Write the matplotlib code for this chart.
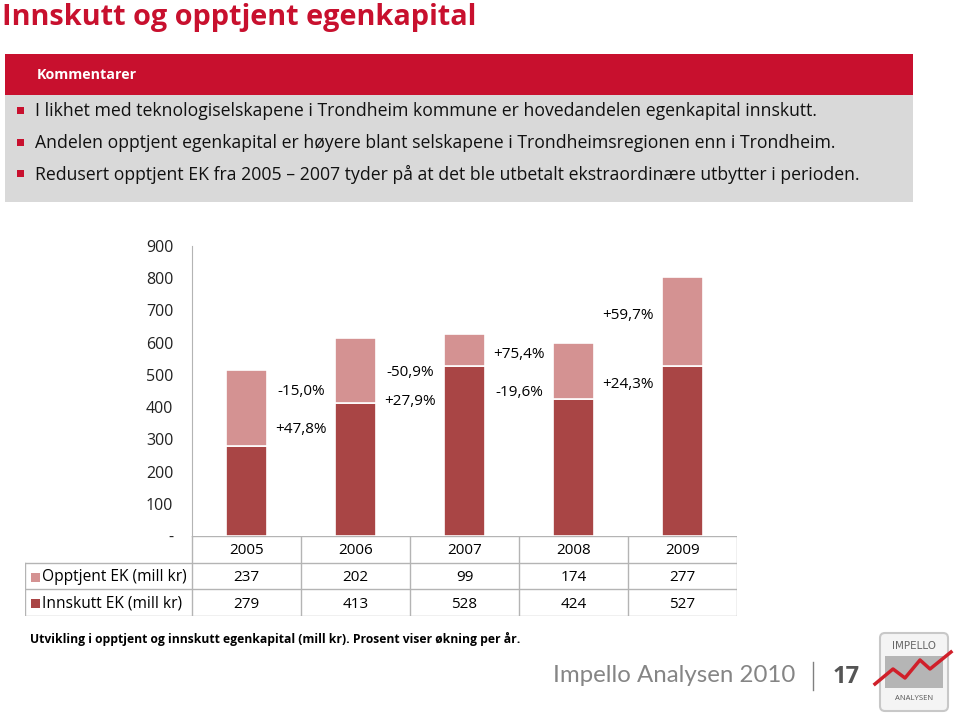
import matplotlib
matplotlib.use("Agg")
import numpy as np
import matplotlib.pyplot as plt
from matplotlib.patches import Rectangle, FancyBboxPatch

plt.rcParams['font.family'] = ['Open Sans', 'DejaVu Sans']

years = ['2005', '2006', '2007', '2008', '2009']
opptjent = [237, 202, 99, 174, 277]
innskutt = [279, 413, 528, 424, 527]
# growth labels between consecutive years (upper, lower)
pct_upper = ['-15,0%', '-50,9%', '+75,4%', '+59,7%']
pct_lower = ['+47,8%', '+27,9%', '-19,6%', '+24,3%']
yticks = [0, 100, 200, 300, 400, 500, 600, 700, 800, 900]
ytick_labels = ['-', '100', '200', '300', '400', '500', '600', '700', '800', '900']

bullets = [
    'I likhet med teknologiselskapene i Trondheim kommune er hovedandelen egenkapital innskutt.',
    'Andelen opptjent egenkapital er høyere blant selskapene i Trondheimsregionen enn i Trondheim.',
    'Redusert opptjent EK fra 2005 \u2013 2007 tyder på at det ble utbetalt ekstraordinære utbytter i perioden.',
]

RED = '#c8102e'
DARK = '#a94545'
LIGHT = '#d49292'
GRID = '#b4b4b4'

W, H = 959, 718
fig = plt.figure(figsize=(W / 100, H / 100), dpi=100)

# overlay axes in pixel coordinates for the slide decoration
ov = fig.add_axes([0, 0, 1, 1])
ov.set_xlim(0, W)
ov.set_ylim(H, 0)
ov.axis('off')

ov.text(2, 18, 'Innskutt og opptjent egenkapital', color=RED, fontsize=20.8,
        fontweight='bold', va='center', ha='left')
ov.add_patch(Rectangle((5, 54), 908, 41, color=RED, lw=0))
ov.add_patch(Rectangle((5, 95), 908, 107, color='#d9d9d9', lw=0))
ov.text(37, 75, 'Kommentarer', color='white', fontsize=10.3, fontweight='bold', va='center')
for i, b in enumerate(bullets):
    y = 110 + i * 31.5
    ov.add_patch(Rectangle((17, y - 3), 7, 7, color=RED, lw=0))
    ov.text(35, y + 1, b, fontsize=12.7, va='center', color='#111111')

ov.text(30, 639, 'Utvikling i opptjent og innskutt egenkapital (mill kr). Prosent viser økning per år.',
        fontsize=8.7, fontweight='bold', va='center')

# footer
ov.text(553, 676, 'Impello Analysen 2010', fontsize=17.3, color='#858585', va='center',
        family=['Lato', 'DejaVu Sans'])
ov.plot([813, 813], [662, 690], color='#808080', lw=1)
ov.text(833, 677, '17', fontsize=17, color='#555555', fontweight='bold', va='center')

# logo
ov.add_patch(FancyBboxPatch((880, 633), 68, 78, boxstyle='round,pad=0,rounding_size=5',
                            fc='#f4f4f4', ec='#c8c8c8', lw=1.5))
ov.add_patch(Rectangle((885, 656), 58, 32, color='#b5b5b5', lw=0))
ov.text(914, 646, 'IMPELLO', fontsize=7.5, color='#666666', ha='center', va='center',
        family=['Liberation Sans Narrow', 'DejaVu Sans'])
ov.text(914, 699, 'ANALYSEN', fontsize=5.5, color='#555555', ha='center', va='center')
ov.plot([875, 893, 905, 920, 930, 951], [684, 669, 678, 660, 669, 652], color='#d0202a', lw=2.5)

# bar chart
ax = fig.add_axes([192 / W, 1 - 536 / H, 545 / W, 290 / H])
x = np.arange(len(years))
ax.bar(x, innskutt, width=0.37, color=DARK, edgecolor='white', linewidth=1.2, zorder=3)
ax.bar(x, opptjent, width=0.37, bottom=innskutt, color=LIGHT, edgecolor='white', linewidth=1.2, zorder=3)
ax.set_xlim(-0.5, 4.5)
ax.set_ylim(0, 900)
ax.set_yticks(yticks)
ax.set_yticklabels(ytick_labels, fontsize=11.5, color='#222222')
ax.tick_params(axis='y', length=0, pad=13.5)
ax.set_xticks([])
for s in ['top', 'right', 'bottom']:
    ax.spines[s].set_visible(False)
ax.spines['left'].set_color(GRID)
ax.patch.set_alpha(0)

upper_y = [447, 506, 562, 683]
lower_y = [329, 416, 444, 469]
for i in range(4):
    ax.text(i + 0.5, upper_y[i], pct_upper[i], ha='center', va='center', fontsize=11)
    ax.text(i + 0.5, lower_y[i], pct_lower[i], ha='center', va='center', fontsize=11)

# data table under the chart, sharing the x scale
left_units = 167 / 109
tb = fig.add_axes([25 / W, 1 - 616 / H, 712 / W, 80 / H])
tb.set_xlim(-0.5 - left_units, 4.5)
tb.set_ylim(3, 0)
tb.axis('off')
x0 = -0.5 - left_units
for r in [0, 1, 2, 3]:
    tb.plot([-0.5 if r == 0 else x0, 4.5], [r, r], color=GRID, lw=1)
tb.plot([x0, x0], [1, 3], color=GRID, lw=1)
for c in range(6):
    tb.plot([c - 0.5, c - 0.5], [0, 3], color=GRID, lw=1)
for i, yr in enumerate(years):
    tb.text(i, 0.55, yr, ha='center', va='center', fontsize=11)
    tb.text(i, 1.55, str(opptjent[i]), ha='center', va='center', fontsize=11)
    tb.text(i, 2.55, str(innskutt[i]), ha='center', va='center', fontsize=11)
sq = 0.08
tb.add_patch(Rectangle((x0 + 0.055, 1.38), sq, 0.33, color=LIGHT, lw=0))
tb.add_patch(Rectangle((x0 + 0.055, 2.38), sq, 0.33, color=DARK, lw=0))
tb.text(x0 + 0.16, 1.55, 'Opptjent EK (mill kr)', va='center', fontsize=11.2)
tb.text(x0 + 0.16, 2.55, 'Innskutt EK (mill kr)', va='center', fontsize=11.2)

fig.savefig('out.png', dpi=100)
